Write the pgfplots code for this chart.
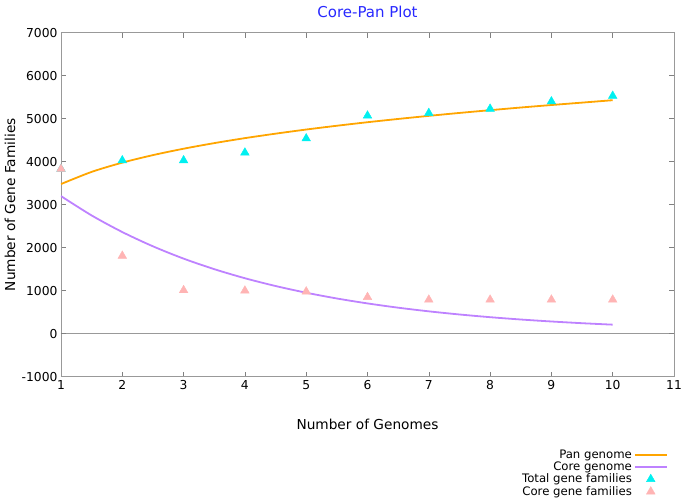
\documentclass[border=0pt]{standalone}
\usepackage{fontspec}
\setmainfont{DejaVu Sans}
\usepackage{pgfplots}
\pgfplotsset{compat=1.18}
\definecolor{panc}{RGB}{255,165,0}
\definecolor{corec}{RGB}{190,130,255}
\definecolor{totm}{RGB}{0,240,240}
\definecolor{corem}{RGB}{255,180,180}
\definecolor{titc}{RGB}{40,40,255}
\pgfplotsset{
  linelegend/.style={legend image code/.code={\draw[draw=#1, line width=1.8pt] (0pt,0pt) -- (32pt,0pt);}},
  marklegend/.style={legend image code/.code={\path[draw=none] (0pt,0pt) -- (32pt,0pt); \draw[##1, only marks] plot coordinates {(16pt,0pt)};}},
}
\begin{document}
\begin{tikzpicture}[x=1pt,y=1pt]
\useasboundingbox (0,0) rectangle (685,502);
\begin{axis}[
  at={(61pt,125.3pt)}, anchor=south west,
  scale only axis, width=613pt, height=344pt,
  xmin=1, xmax=11, ymin=-1000, ymax=7000,
  xtick={1,2,...,11}, ytick={-1000,0,1000,...,7000},
  extra y ticks={0}, extra y tick labels={},
  extra y tick style={grid=major, major grid style={draw=black!40, line width=0.8pt}},
  /pgf/number format/assume math mode=true,
  /pgf/number format/1000 sep={},
  tick label style={font=\fontsize{12.3}{14}\selectfont},
  axis line style={draw=black!40, line width=0.8pt},
  tick style={draw=black!50, line width=0.6pt},
  tick align=inside, major tick length=5pt,
  every axis title shift=0pt,
  title={Core-Pan Plot},
  title style={font=\fontsize{15}{17}\selectfont, text=titc, at={(axis description cs:0.5,1.060)}, anchor=center},
  xlabel={Number of Genomes},
  xlabel style={font=\fontsize{13.7}{15}\selectfont, at={(axis description cs:0.5,-0.140)}, anchor=center},
  ylabel={Number of Gene Families},
  ylabel style={font=\fontsize{13.7}{15}\selectfont, at={(axis description cs:-0.083,0.5)}, anchor=center, rotate=0},
  legend style={draw=none, fill=none, font=\fontsize{11.7}{12}\selectfont, at={(axis description cs:0.990,-0.206)}, anchor=north east, row sep=-2pt, inner sep=0pt},
  legend cell align=right,
  legend plot pos=right,
]
\addplot[color=panc, line width=1.8pt, smooth, linelegend=panc] coordinates {
(1,3480) (1.5,3763) (2,3978) (2.5,4153) (3,4302) (3.5,4432) (4,4548) (4.5,4652) (5,4748) (5.5,4836) (6,4918) (6.5,4994) (7,5066) (7.5,5134) (8,5198) (8.5,5260) (9,5318) (9.5,5374) (10,5430)};
\addlegendentry{Pan genome}
\addplot[color=corec, line width=1.8pt, smooth, linelegend=corec] coordinates {
(1,3200) (1.5,2750) (2,2364) (2.5,2032) (3,1746) (3.5,1501) (4,1290) (4.5,1109) (5,953) (5.5,819) (6,704) (6.5,605) (7,520) (7.5,447) (8,384) (8.5,330) (9,284) (9.5,244) (10,210)};
\addlegendentry{Core genome}
\addplot[only marks, mark=triangle*, mark size=5pt, mark options={fill=totm, draw=totm}, marklegend] coordinates {
(1,3830) (2,4030) (3,4030) (4,4210) (5,4540) (6,5070) (7,5130) (8,5230) (9,5400) (10,5530)};
\addlegendentry{Total gene families}
\addplot[only marks, mark=triangle*, mark size=5pt, mark options={fill=corem, draw=corem}, marklegend] coordinates {
(1,3830) (2,1810) (3,1010) (4,1000) (5,980) (6,850) (7,790) (8,790) (9,790) (10,790)};
\addlegendentry{Core gene families}
\end{axis}
\end{tikzpicture}
\end{document}
